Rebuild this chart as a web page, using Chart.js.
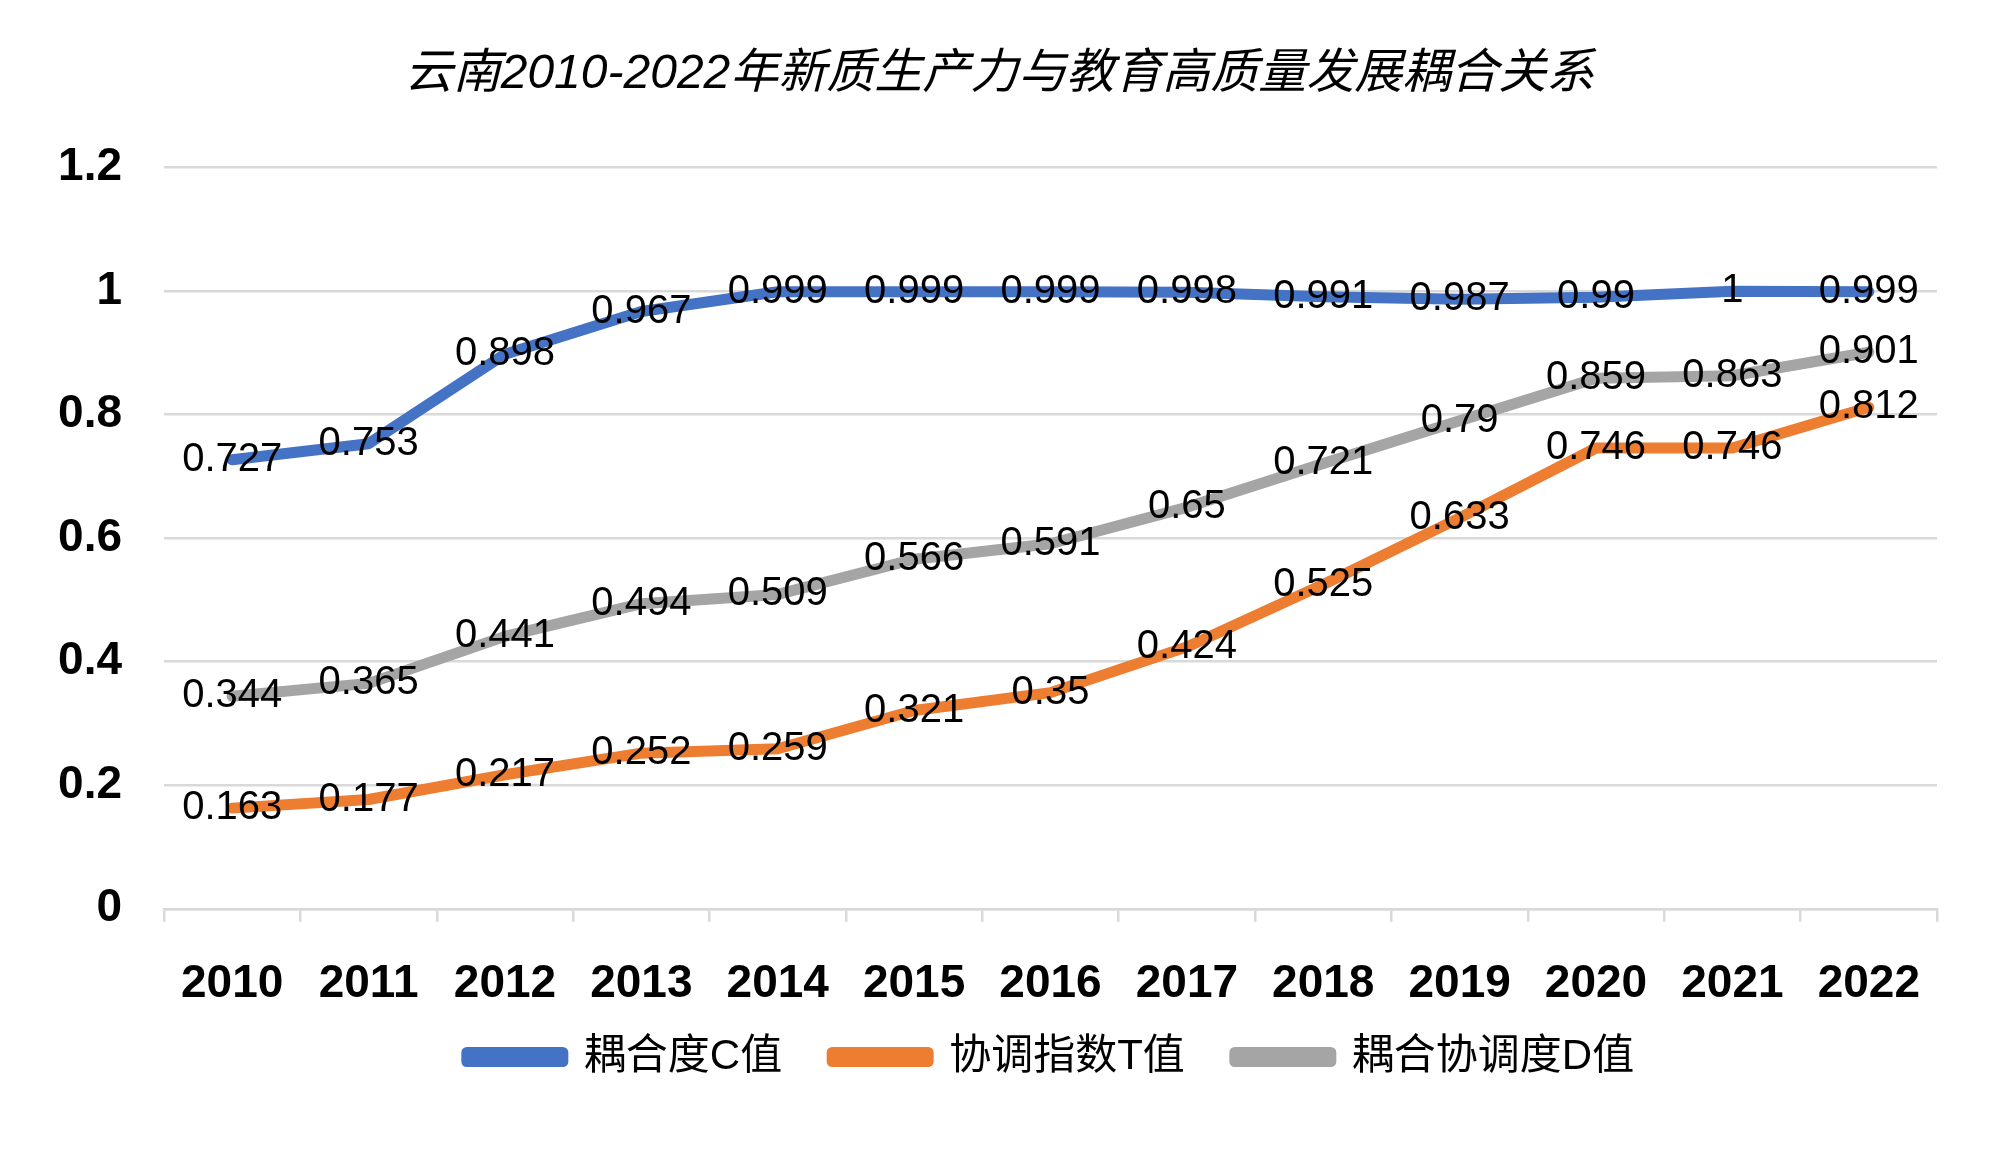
<!DOCTYPE html>
<html>
<head>
<meta charset="utf-8">
<script src="https://cdn.jsdelivr.net/npm/chart.js@4/dist/chart.umd.min.js"></script>
<style>
  body { margin: 0; background: #fff; }
  #wrap { width: 1999px; height: 1174px; }
</style>
</head>
<body>
<div id="wrap"><canvas id="lineChart" width="1999" height="1174"></canvas></div>
<script>
// data
var years = ["2010", "2011", "2012", "2013", "2014", "2015", "2016", "2017", "2018", "2019", "2020", "2021", "2022"];
var cValues = [0.727, 0.753, 0.898, 0.967, 0.999, 0.999, 0.999, 0.998, 0.991, 0.987, 0.99, 1, 0.999];
var tValues = [0.163, 0.177, 0.217, 0.252, 0.259, 0.321, 0.35, 0.424, 0.525, 0.633, 0.746, 0.746, 0.812];
var dValues = [0.344, 0.365, 0.441, 0.494, 0.509, 0.566, 0.591, 0.65, 0.721, 0.79, 0.859, 0.863, 0.901];
var seriesNames = ["耦合度C值", "协调指数T值", "耦合协调度D值"];
var titleText = "云南2010-2022年新质生产力与教育高质量发展耦合关系";

var fontFamily = "'Liberation Sans', Arial, 'Noto Sans CJK SC', sans-serif";

// value labels centred on each point
var pointLabels = {
    id: "pointLabels",
    afterDatasetsDraw: function (chart) {
        var ctx = chart.ctx;
        ctx.save();
        ctx.font = "40px " + fontFamily;
        ctx.fillStyle = "#000";
        ctx.textAlign = "center";
        ctx.textBaseline = "middle";
        chart.data.datasets.forEach(function (ds, i) {
            var meta = chart.getDatasetMeta(i);
            meta.data.forEach(function (pt, j) {
                ctx.fillText(String(ds.data[j]), pt.x, pt.y);
            });
        });
        ctx.restore();
    }
};

// pull the legend up closer to the year labels
var legendShift = {
    id: "legendShift",
    afterLayout: function (chart) {
        if (chart.legend) {
            chart.legend.top -= 61;
            chart.legend.bottom -= 61;
        }
    }
};

function makeSet(label, data, color) {
    return {
        label: label,
        data: data,
        borderColor: color,
        backgroundColor: color,
        borderWidth: 11,
        pointRadius: 0,
        tension: 0,
        borderJoinStyle: "round",
        borderCapStyle: "round"
    };
}

var ctxL = document.getElementById("lineChart");
var myLineChart = new Chart(ctxL, {
    type: "line",
    data: {
        labels: years,
        datasets: [
            makeSet(seriesNames[0], cValues, "#4472C4"),
            makeSet(seriesNames[1], tValues, "#ED7D31"),
            makeSet(seriesNames[2], dValues, "#A5A5A5")
        ]
    },
    options: {
        responsive: false,
        devicePixelRatio: 1,
        animation: false,
        layout: { padding: { left: 0, right: 0, top: 0, bottom: 25 } },
        plugins: {
            title: {
                display: true,
                text: titleText,
                color: "#000",
                font: { family: fontFamily, size: 48, style: "italic", weight: "normal" },
                padding: { top: 46, bottom: 64 }
            },
            legend: {
                position: "bottom",
                fullSize: false,
                labels: {
                    color: "#000",
                    font: { family: fontFamily, size: 42 },
                    boxWidth: 96,
                    boxHeight: 9,
                    padding: 50
                }
            },
            tooltip: { enabled: false }
        },
        scales: {
            x: {
                offset: true,
                grid: {
                    offset: true,
                    drawOnChartArea: false,
                    drawTicks: true,
                    tickLength: 13,
                    color: "#d9d9d9",
                    lineWidth: 2.5
                },
                border: { display: true, color: "#d9d9d9", width: 2.5 },
                ticks: {
                    color: "#000",
                    font: { family: fontFamily, size: 46, weight: "bold" },
                    padding: 35,
                    maxRotation: 0
                }
            },
            y: {
                min: 0,
                max: 1.2,
                afterFit: function (scale) { scale.width = 164; },
                grid: { color: "#d9d9d9", lineWidth: 2.5, drawTicks: false },
                border: { display: false },
                ticks: {
                    stepSize: 0.2,
                    color: "#000",
                    font: { family: fontFamily, size: 46, weight: "bold" },
                    padding: 42,
                    callback: function (v) { return String(Number(v.toFixed(1))); }
                }
            },
            // empty right margin box so the title stays centred on the page
            yRight: {
                position: "right",
                display: true,
                afterFit: function (scale) { scale.width = 62; },
                grid: { display: false },
                border: { display: false },
                ticks: { display: false }
            }
        }
    },
    plugins: [pointLabels, legendShift]
});
</script>
</body>
</html>
